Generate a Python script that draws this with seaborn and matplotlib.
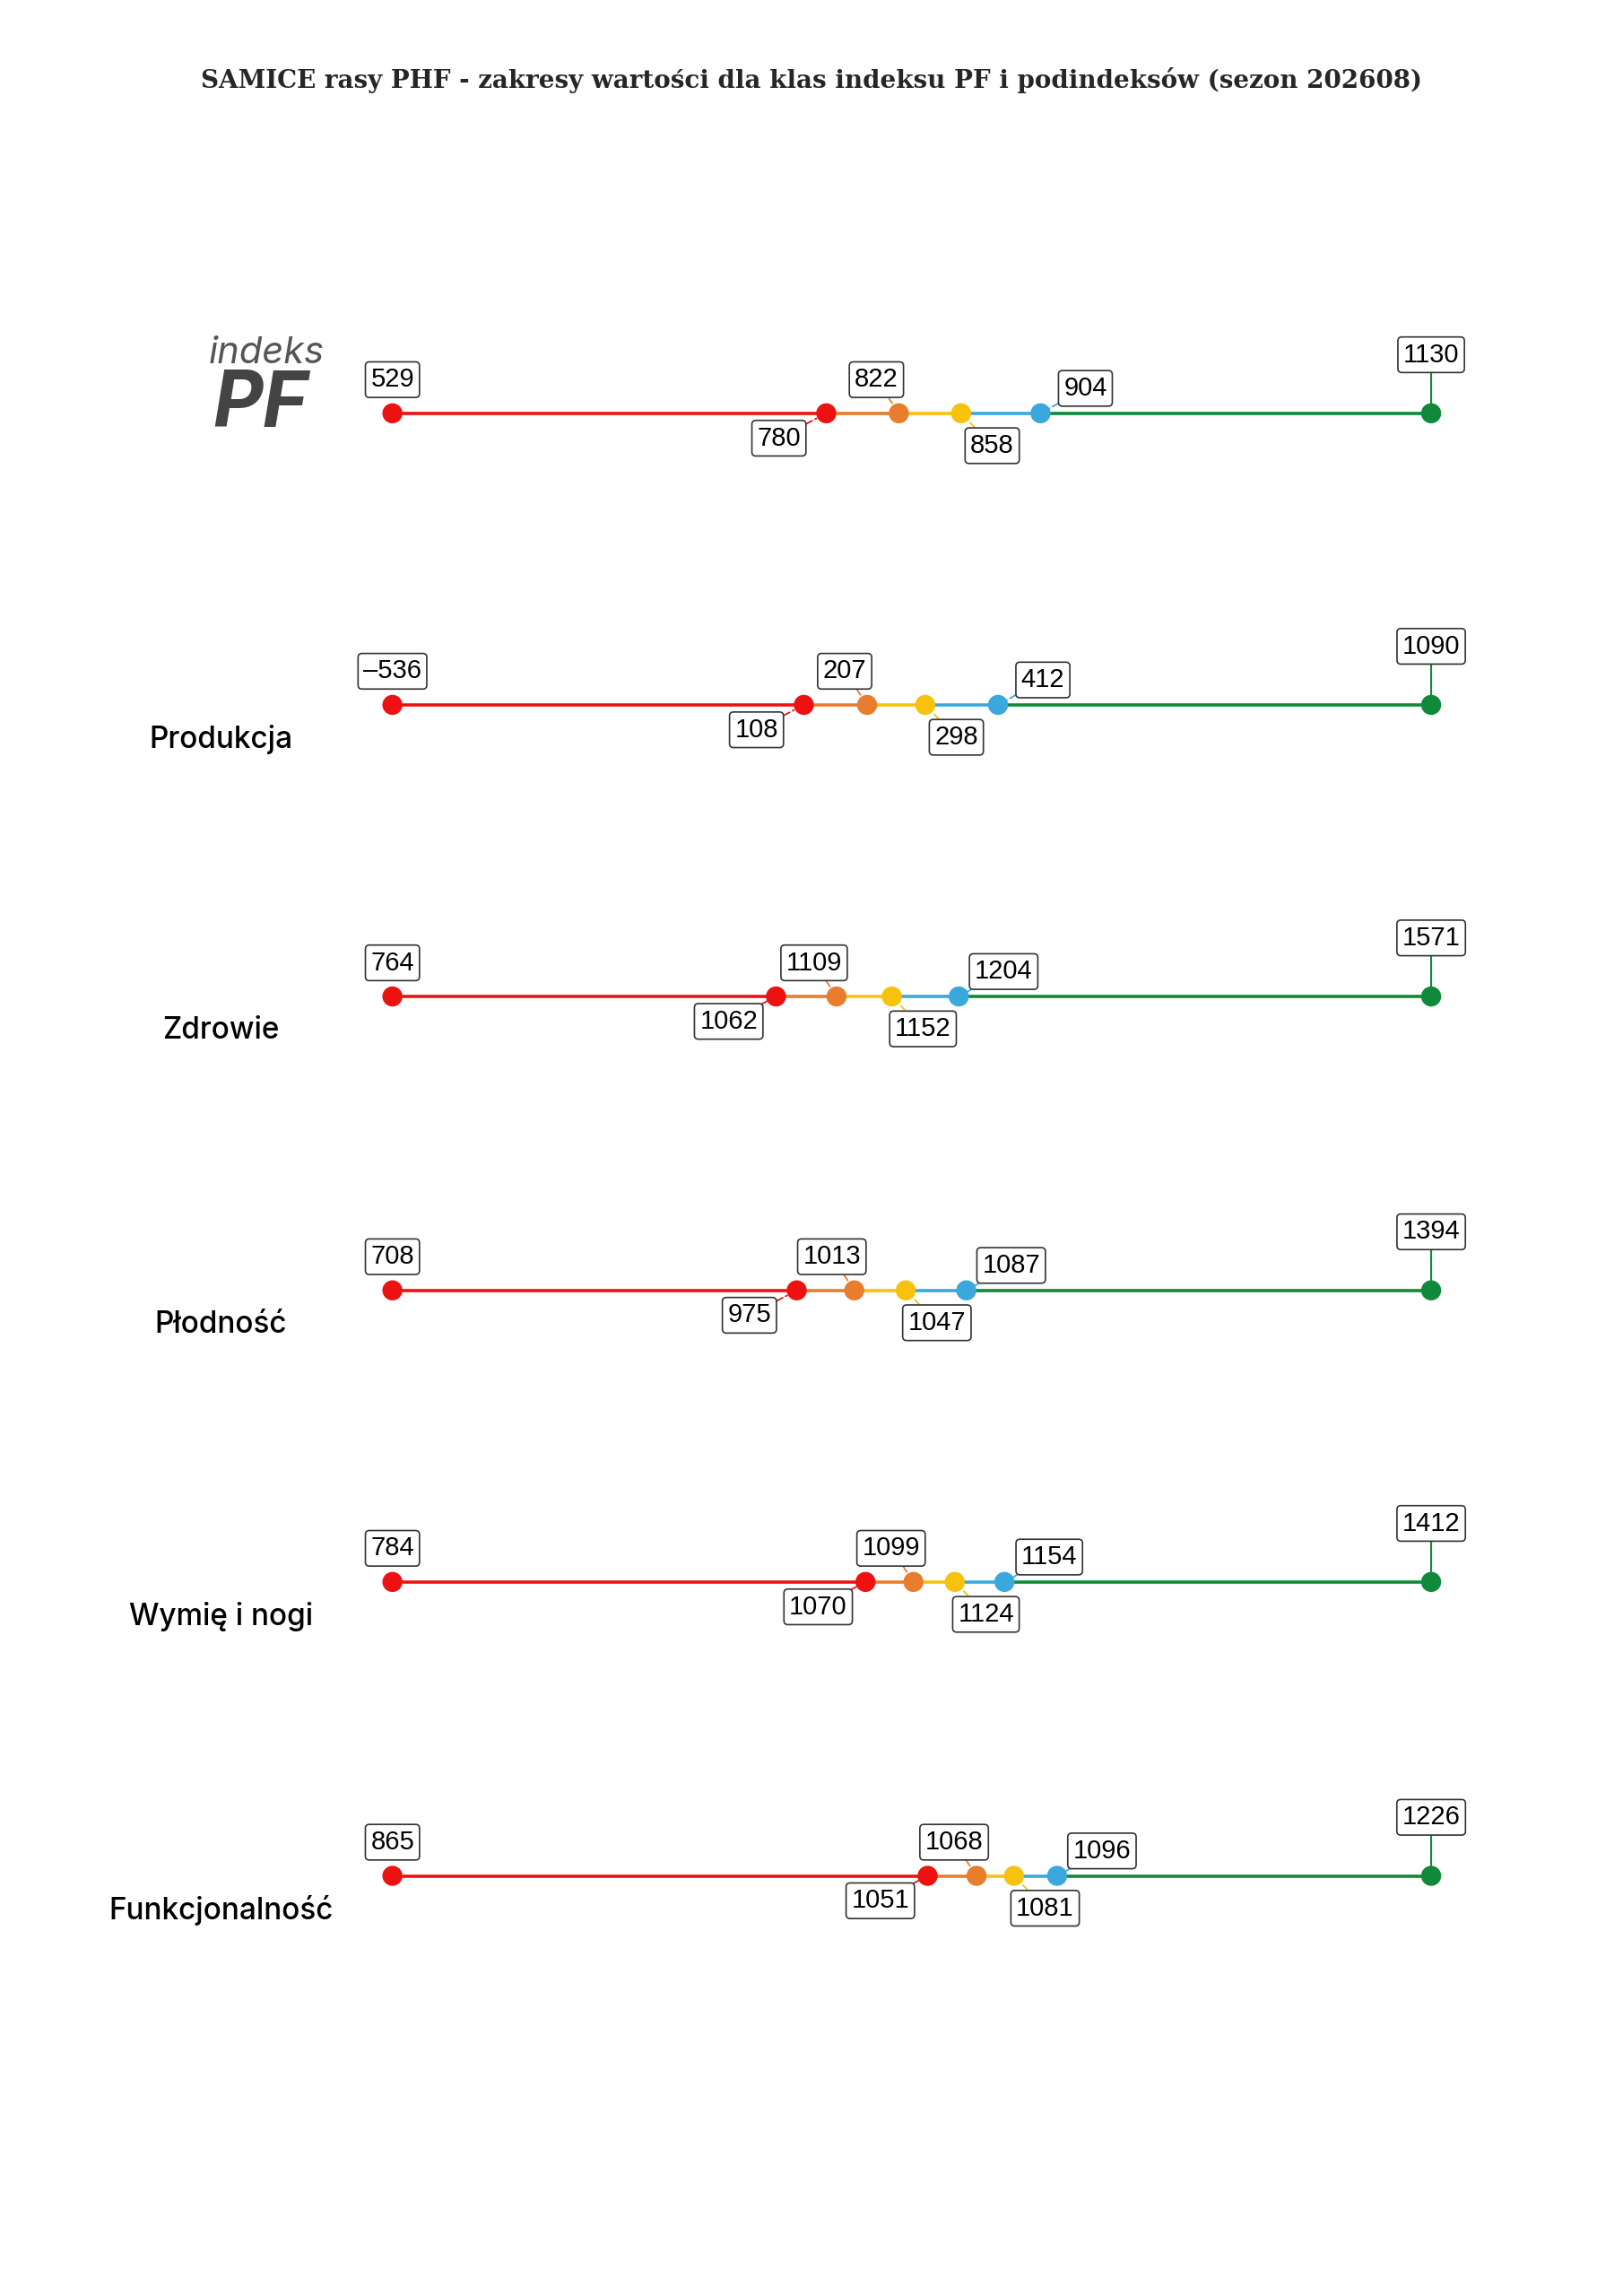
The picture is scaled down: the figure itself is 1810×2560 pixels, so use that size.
import numpy as np
import pandas as pd
import matplotlib
matplotlib.use("Agg")
import matplotlib.pyplot as plt
import seaborn as sns

sns.set_style("white")
plt.rcParams["font.family"] = ["Inter", "DejaVu Sans"]

# data
rows = ["indeks PF", "Produkcja", "Zdrowie", "Płodność", "Wymię i nogi", "Funkcjonalność"]
v_min = [529, -536, 764, 708, 784, 865]
v_red = [780, 108, 1062, 975, 1070, 1051]
v_orange = [822, 207, 1109, 1013, 1099, 1068]
v_yellow = [858, 298, 1152, 1047, 1124, 1081]
v_blue = [904, 412, 1204, 1087, 1154, 1096]
v_max = [1130, 1090, 1571, 1394, 1412, 1226]

row_y = [0.180, 0.307, 0.434, 0.562, 0.689, 0.817]
x0, x1 = 0.2418, 0.8818
cols = ["#EE1111", "#EE1111", "#E87D2E", "#F7C20E", "#3AA8DD", "#108A3A"]
seg_cols = ["#EE1111", "#E87D2E", "#F7C20E", "#3AA8DD", "#108A3A"]

recs = []
for i, name in enumerate(rows):
    vals = [v_min[i], v_red[i], v_orange[i], v_yellow[i], v_blue[i], v_max[i]]
    lo, hi = vals[0], vals[-1]
    for k, v in enumerate(vals):
        recs.append(dict(row=name, k=k, val=v,
                         x=x0 + (v - lo) / (hi - lo) * (x1 - x0), y=row_y[i]))
df = pd.DataFrame(recs)

fig = plt.figure(figsize=(18.1, 25.6), dpi=100)
ax = fig.add_axes([0, 0, 1, 1])
ax.set_xlim(0, 1)
ax.set_ylim(1, 0)
ax.axis("off")

for name, g in df.groupby("row", sort=False):
    g = g.sort_values("k")
    for k in range(5):
        sns.lineplot(x=g["x"].iloc[k:k + 2], y=g["y"].iloc[k:k + 2], ax=ax,
                     color=seg_cols[k], linewidth=2.6, sort=False)
sns.scatterplot(data=df, x="x", y="y", hue="k", palette=cols, s=260,
                edgecolor="none", legend=False, ax=ax, zorder=5)

box = dict(boxstyle="round,pad=0.2,rounding_size=0.15", fc="white", ec="#333333", lw=1.2)
offs = [(0, 27), (-38, -20), (-18, 27), (25, -26), (36, 20), (0, 47)]
for _, r in df.iterrows():
    k = int(r["k"])
    dx, dy = offs[k]
    txt = str(int(r["val"])).replace("-", "\u2013")
    if k == 0:
        arrow = None
    elif k == 5:
        arrow = dict(arrowstyle="-", color=cols[k], lw=1.5, shrinkA=0, shrinkB=0)
    else:
        arrow = dict(arrowstyle="-", color=cols[k], lw=1.3, ls=(0, (4, 2, 1, 2)),
                     shrinkA=0, shrinkB=0)
    ax.annotate(txt, (r["x"], r["y"]), xytext=(dx, dy), textcoords="offset points",
                ha="center", va="center", fontsize=21, family="Liberation Sans",
                color="black", bbox=box, arrowprops=arrow, zorder=6)

for i, name in enumerate(rows):
    if i == 0:
        ax.text(0.20, row_y[i] - 0.026, "indeks", ha="right", va="center", fontsize=30,
                style="italic", color="#555555")
        ax.text(0.19, row_y[i] - 0.003, "PF", ha="right", va="center", fontsize=62,
                style="italic", weight="bold", color="#444444")
    else:
        ax.text(0.136, row_y[i] + 0.015, name, ha="center", va="center", fontsize=24,
                weight="medium", color="black")

fig.text(0.5, 0.965, "SAMICE rasy PHF - zakresy wartości dla klas indeksu PF i podindeksów (sezon 202608)",
         ha="center", va="center", fontsize=20, weight="bold", family="DejaVu Serif")

fig.savefig("out.png", dpi=100, facecolor="white")
